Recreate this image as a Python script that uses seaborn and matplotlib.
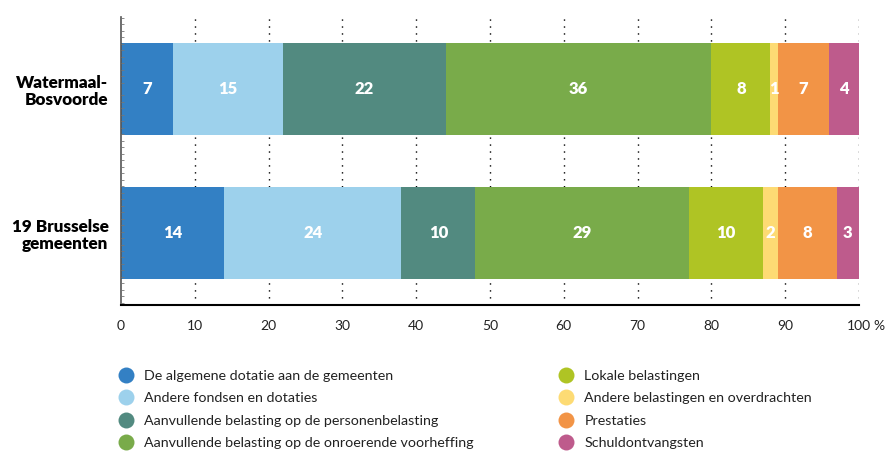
import matplotlib
matplotlib.use("Agg")
import matplotlib.pyplot as plt
import seaborn as sns
import numpy as np
import pandas as pd
from matplotlib.lines import Line2D
from matplotlib.ticker import MultipleLocator

# Categories (municipalities) and revenue components in %
categories = ["Watermaal-\nBosvoorde", "19 Brusselse\ngemeenten"]
components = [
    "De algemene dotatie aan de gemeenten",
    "Andere fondsen en dotaties",
    "Aanvullende belasting op de personenbelasting",
    "Aanvullende belasting op de onroerende voorheffing",
    "Lokale belastingen",
    "Andere belastingen en overdrachten",
    "Prestaties",
    "Schuldontvangsten",
]
watermaal = [7, 15, 22, 36, 8, 1, 7, 4]
brussel = [14, 24, 10, 29, 10, 2, 8, 3]
colors = ["#3380C4", "#9DD1EC", "#528A80", "#79AB4A",
          "#AFC424", "#FDDB74", "#F29446", "#BE5B8C"]
x_ticks = [0, 10, 20, 30, 40, 50, 60, 70, 80, 90, 100]

sns.set_theme(style="white")
plt.rcParams["font.family"] = ["Lato", "DejaVu Sans"]

values = np.array([watermaal, brussel], dtype=float)
cum = values.cumsum(axis=1)

fig = plt.figure(figsize=(8.92, 4.57), dpi=100)
ax = fig.add_axes([121 / 892, 1 - 305 / 457, (859 - 121) / 892, (305 - 17) / 457])

# dotted vertical guides behind the bars
for xv in x_ticks[1:]:
    ax.axvline(xv, color="black", linestyle=(0, (1, 4)), linewidth=1.0, zorder=0)

# stacked bars: draw cumulative totals from the last component to the first
for k in range(len(components) - 1, -1, -1):
    df = pd.DataFrame({"cat": categories, "val": cum[:, k]})
    sns.barplot(data=df, x="val", y="cat", orient="h", color=colors[k],
                width=0.64, saturation=1, ax=ax, zorder=2, edgecolor="none")

# value labels centred in each segment
for i in range(len(categories)):
    for k in range(len(components)):
        v = values[i, k]
        xc = cum[i, k] - v / 2
        ax.text(xc, i, f"{int(v)}", ha="center", va="center", color="white",
                fontsize=12, fontweight="heavy", zorder=3)

ax.set_axisbelow(False)
ax.set_xlim(0, 100)
ax.set_ylim(1.5, -0.5)
ax.set_xlabel("")
ax.set_ylabel("")
ax.set_xticks(x_ticks)
ax.set_xticklabels([str(t) for t in x_ticks], fontsize=10, color="#222222")
ax.text(101.9, -0.0535, "%", transform=ax.get_xaxis_transform(), ha="left",
        va="top", fontsize=10, color="#222222")
ax.set_yticks([0, 1])
ax.set_yticklabels(categories, fontsize=12.3, fontweight="heavy", color="black",
                   linespacing=1.1)
ax.tick_params(axis="y", length=0, pad=9)
ax.tick_params(axis="x", direction="in", length=3, width=0.6, color="#888888",
               pad=11)
ax.yaxis.set_minor_locator(MultipleLocator(0.045))
ax.tick_params(axis="y", which="minor", direction="in", length=2, width=0.6,
               color="#777777", left=True)

for s in ["top", "right"]:
    ax.spines[s].set_visible(False)
ax.spines["left"].set_color("#555555")
ax.spines["left"].set_linewidth(1.2)
ax.spines["bottom"].set_color("black")
ax.spines["bottom"].set_linewidth(1.5)

# legend in two columns
def make_handles(idx):
    return [Line2D([0], [0], marker="o", linestyle="none", markersize=11.5,
                   markerfacecolor=colors[j], markeredgecolor="none")
            for j in idx]

leg_kw = dict(frameon=False, fontsize=10.3, handlelength=0.8, handletextpad=0.9,
              labelspacing=0.72, borderaxespad=0, borderpad=0, labelcolor="#222222")
fig.legend(make_handles(range(4)), components[:4], loc="upper left",
           bbox_to_anchor=(120 / 892, 1 - 370 / 457), **leg_kw)
fig.legend(make_handles(range(4, 8)), components[4:], loc="upper left",
           bbox_to_anchor=(560 / 892, 1 - 370 / 457), **leg_kw)

fig.savefig("out.png", dpi=100)
